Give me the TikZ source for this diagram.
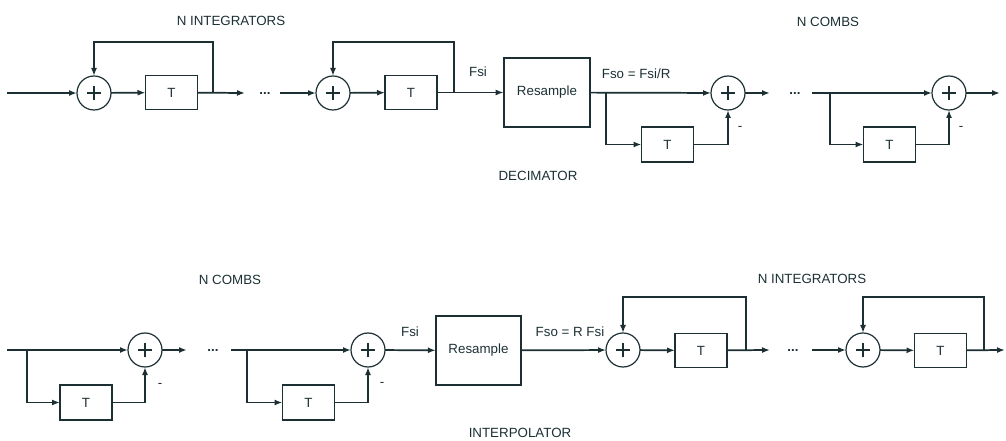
\documentclass[tikz,border=0pt]{standalone}
\usepackage{fontspec}
\setmainfont{Liberation Sans}
\usetikzlibrary{arrows.meta}
\definecolor{ink}{RGB}{28,48,52}
\begin{document}
\begin{tikzpicture}[x=0.75pt,y=-0.75pt,color=ink,line width=1.3pt,
  >={Latex[length=6pt,width=4.5pt]},
  sumnode/.style={circle,draw,line width=0.9pt,minimum size=25.5pt,inner sep=0pt,outer sep=0pt,
     path picture={\draw[line width=1.8pt]
       ([xshift=-5.5pt]path picture bounding box.center)--([xshift=5.5pt]path picture bounding box.center)
       ([yshift=-5.5pt]path picture bounding box.center)--([yshift=5.5pt]path picture bounding box.center);}},
  tbox/.style={draw,rectangle,minimum width=39pt,minimum height=25.5pt,inner sep=0pt,outer sep=0pt,
     font=\fontsize{10}{11}\selectfont},
  rbox/.style={draw,rectangle,minimum width=65pt,minimum height=51.75pt,inner sep=0pt,outer sep=0pt,
     font=\fontsize{10}{11}\selectfont},
  lbl/.style={font=\fontsize{10}{11}\selectfont,inner sep=0pt},
  dotlbl/.style={font=\fontsize{10}{11}\selectfont\bfseries,inner sep=0pt},
  wire/.style={->}]
\useasboundingbox (0,0) rectangle (1006,441);

% ---------- DECIMATOR (top row) ----------
\coordinate (in1) at (7,93);
\node[sumnode] (s1) at (94,93) {};
\node[tbox] (t1) at (171.5,92.5) {T};
\coordinate (fb1) at (213,93);
\coordinate (d1a) at (245,93);
\node[dotlbl] (dots1) at (265,94) {...};
\coordinate (d1b) at (280,93);
\node[sumnode] (s2) at (333,93) {};
\node[tbox] (t2) at (411,92.5) {T};
\coordinate (fb2) at (454,93);
\node[rbox] (rs1) at (547,92.5) {Resample};
\coordinate (br1) at (606,93);
\node[tbox,minimum height=26pt] (t3) at (667.5,144.5) {T};
\node[sumnode] (s3) at (728,93) {};
\coordinate (d2a) at (770,93);
\node[dotlbl] (dots2) at (795,94) {...};
\coordinate (d2b) at (812,93);
\coordinate (br2) at (830,93);
\node[tbox,minimum height=26pt] (t4) at (889.5,144.5) {T};
\node[sumnode] (s4) at (949,93) {};
\coordinate (out1) at (1000,93);

\draw[wire] (in1) -- (s1);
\draw[wire] (s1) -- (t1);
\draw[wire] (t1) -- (d1a);
\draw[wire] (fb1) -- ++(0,-51) -| (s1.north);
\draw[wire] (d1b) -- (s2);
\draw[wire] (s2) -- (t2);
\draw[wire] (t2) -- (rs1);
\draw[wire] (fb2) -- ++(0,-51) -| (s2.north);
\draw[wire] (rs1) -- (s3);
\draw[wire] (br1) |- (t3.west);
\draw[wire] (t3.east) -| (s3.south);
\draw[wire] (s3) -- (d2a);
\draw[wire] (d2b) -- (s4);
\draw[wire] (br2) |- (t4.west);
\draw[wire] (t4.east) -| (s4.south);
\draw[wire] (s4) -- (out1);

\node[lbl] (n1) at (231,21) {N INTEGRATORS};
\node[lbl] (n2) at (828,22) {N COMBS};
\node[lbl] (n3) at (538,176) {DECIMATOR};
\node[lbl] (fsi1) at (478,72) {Fsi};
\node[lbl,anchor=west] (fso1) at (601,74) {Fso = Fsi/R};
\node[lbl] (m1) at (740,128) {-};
\node[lbl] (m2) at (961,128) {-};

% ---------- INTERPOLATOR (bottom row) ----------
\coordinate (in2) at (7,350);
\coordinate (br3) at (27,350);
\node[sumnode] (c1) at (145,350) {};
\node[tbox,minimum height=26pt] (u1) at (86,402.5) {T};
\coordinate (e1a) at (187,350);
\node[dotlbl] (dots3) at (213,351) {...};
\coordinate (e1b) at (231,350);
\coordinate (br4) at (247,350);
\node[tbox,minimum height=26pt] (u2) at (308.5,402.5) {T};
\node[sumnode] (c2) at (368,350) {};
\node[rbox,minimum width=64pt] (rs2) at (478.5,350.5) {Resample};
\node[sumnode] (c3) at (623,350) {};
\node[tbox] (u3) at (701,350.5) {T};
\coordinate (fb3) at (746,350);
\coordinate (e2a) at (770,350);
\node[dotlbl] (dots4) at (793,351) {...};
\coordinate (e2b) at (812,350);
\node[sumnode] (c4) at (863,350) {};
\node[tbox] (u4) at (940.5,350.5) {T};
\coordinate (fb4) at (984,350);
\coordinate (out2) at (1005,350);

\draw[wire] (in2) -- (c1);
\draw[wire] (br3) |- (u1.west);
\draw[wire] (u1.east) -| (c1.south);
\draw[wire] (c1) -- (e1a);
\draw[wire] (e1b) -- (c2);
\draw[wire] (br4) |- (u2.west);
\draw[wire] (u2.east) -| (c2.south);
\draw[wire] (c2) -- (rs2);
\draw[wire] (rs2) -- (c3);
\draw[wire] (c3) -- (u3);
\draw[wire] (u3) -- (e2a);
\draw[wire] (fb3) -- ++(0,-53) -| (c3.north);
\draw[wire] (e2b) -- (c4);
\draw[wire] (c4) -- (u4);
\draw[wire] (u4) -- (out2);
\draw[wire] (fb4) -- ++(0,-53) -| (c4.north);

\node[lbl] (n4) at (230,280) {N COMBS};
\node[lbl] (n5) at (812,279) {N INTEGRATORS};
\node[lbl] (n6) at (520,433) {INTERPOLATOR};
\node[lbl] (fsi2) at (410,332) {Fsi};
\node[lbl] (fso2) at (570,332) {Fso = R Fsi};
\node[lbl] (m3) at (160,385) {-};
\node[lbl] (m4) at (382,384) {-};
\end{tikzpicture}
\end{document}
